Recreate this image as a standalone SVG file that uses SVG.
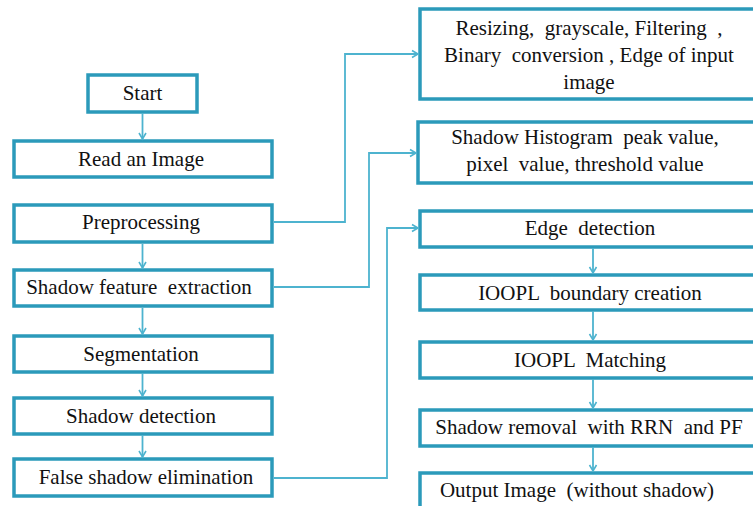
<svg xmlns="http://www.w3.org/2000/svg" width="753" height="506" viewBox="0 0 753 506">
  <defs>
    <marker id="arrow" markerWidth="10" markerHeight="10" refX="8" refY="5" orient="auto" markerUnits="userSpaceOnUse">
      <polyline points="2,1.5 8,5 2,8.5" fill="none" stroke="#4db3cf" stroke-width="1.6"/>
    </marker>
  </defs>
  <style>
    .box { fill: #ffffff; stroke: #2b9aba; stroke-width: 3.5; }
    text { font-family: 'Liberation Serif', 'Times New Roman', Times, 'DejaVu Serif', serif; font-size: 21px; fill: #111111; text-anchor: middle; }
    .conn { fill: none; stroke: #4db3cf; stroke-width: 1.8; }
  </style>
  <rect width="753" height="506" fill="#ffffff"/>

  <!-- main pipeline, left column -->
  <g id="start">
    <rect class="box" x="88" y="75" width="109" height="37"/>
    <text x="142.5" y="100">Start</text>
  </g>
  <g id="read-image">
    <rect class="box" x="14" y="141" width="258" height="36"/>
    <text x="141" y="166">Read an Image</text>
  </g>
  <g id="preprocessing">
    <rect class="box" x="14" y="205" width="258" height="37"/>
    <text x="141" y="229">Preprocessing</text>
  </g>
  <g id="feature-extraction">
    <rect class="box" x="14" y="270" width="258" height="36"/>
    <text x="139" y="294" xml:space="preserve">Shadow feature  extraction</text>
  </g>
  <g id="segmentation">
    <rect class="box" x="14" y="336" width="258" height="36"/>
    <text x="141" y="361">Segmentation</text>
  </g>
  <g id="shadow-detection">
    <rect class="box" x="14" y="398" width="258" height="36"/>
    <text x="141" y="423">Shadow detection</text>
  </g>
  <g id="false-shadow">
    <rect class="box" x="14" y="459" width="258" height="37"/>
    <text x="146" y="484">False shadow elimination</text>
  </g>

  <!-- detail boxes, right column -->
  <g id="preprocessing-detail">
    <rect class="box" x="420" y="9" width="345" height="90"/>
    <text x="589" y="35" xml:space="preserve">Resizing,  grayscale, Filtering  ,</text>
    <text x="589" y="62" xml:space="preserve">Binary  conversion , Edge of input</text>
    <text x="589" y="89">image</text>
  </g>
  <g id="feature-detail">
    <rect class="box" x="418" y="122" width="347" height="61"/>
    <text x="585" y="144" xml:space="preserve">Shadow Histogram  peak value,</text>
    <text x="585" y="171" xml:space="preserve">pixel  value, threshold value</text>
  </g>
  <g id="edge-detection">
    <rect class="box" x="420" y="211" width="345" height="36"/>
    <text x="590" y="235" xml:space="preserve">Edge  detection</text>
  </g>
  <g id="boundary-creation">
    <rect class="box" x="420" y="275" width="345" height="35"/>
    <text x="590" y="300" xml:space="preserve">IOOPL  boundary creation</text>
  </g>
  <g id="ioopl-matching">
    <rect class="box" x="420" y="342" width="345" height="36"/>
    <text x="590" y="367" xml:space="preserve">IOOPL  Matching</text>
  </g>
  <g id="shadow-removal">
    <rect class="box" x="420" y="410" width="345" height="36"/>
    <text x="589" y="434" xml:space="preserve">Shadow removal  with RRN  and PF</text>
  </g>
  <g id="output-image">
    <rect class="box" x="420" y="473" width="345" height="45"/>
    <text x="577" y="497" xml:space="preserve">Output Image  (without shadow)</text>
  </g>

  <!-- connectors -->
  <g id="connectors">
    <line class="conn" x1="142.5" y1="113" x2="142.5" y2="139" marker-end="url(#arrow)"/>
    <line class="conn" x1="142.5" y1="244" x2="142.5" y2="268" marker-end="url(#arrow)"/>
    <line class="conn" x1="142.5" y1="308" x2="142.5" y2="334" marker-end="url(#arrow)"/>
    <line class="conn" x1="142.5" y1="373" x2="142.5" y2="396" marker-end="url(#arrow)"/>
    <line class="conn" x1="142.5" y1="435" x2="142.5" y2="457" marker-end="url(#arrow)"/>

    <polyline class="conn" points="274,222 345,222 345,54 418,54" marker-end="url(#arrow)"/>
    <polyline class="conn" points="274,287 369,287 369,153 416,153" marker-end="url(#arrow)"/>
    <polyline class="conn" points="274,478 387,478 387,228 418,228" marker-end="url(#arrow)"/>

    <line class="conn" x1="593" y1="248" x2="593" y2="273" marker-end="url(#arrow)"/>
    <line class="conn" x1="593" y1="311" x2="593" y2="340" marker-end="url(#arrow)"/>
    <line class="conn" x1="593" y1="379" x2="593" y2="408" marker-end="url(#arrow)"/>
    <line class="conn" x1="593" y1="447" x2="593" y2="471" marker-end="url(#arrow)"/>
  </g>
</svg>
